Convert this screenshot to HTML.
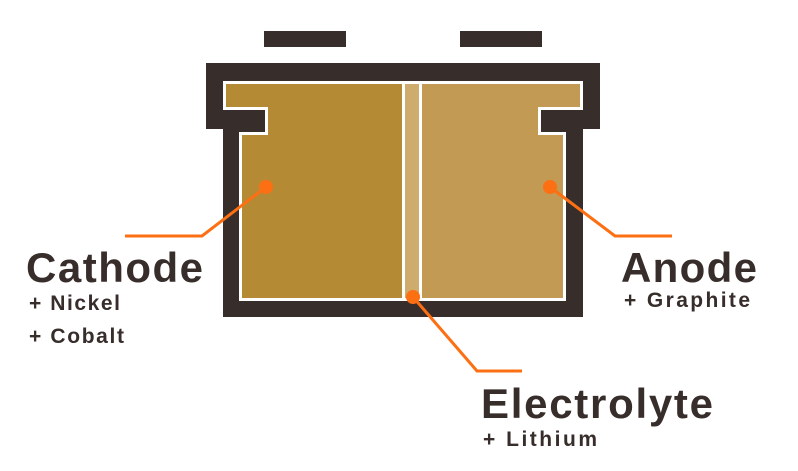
<!DOCTYPE html>
<html><head><meta charset="utf-8"><style>
body{margin:0;background:#fff;}
svg{display:block}
text{font-family:"Liberation Sans",sans-serif;font-weight:bold;fill:#372d2b}
</style></head><body>
<svg width="798" height="471" viewBox="0 0 798 471">
<rect x="264" y="31" width="82" height="16" fill="#372d2b"/>
<rect x="460" y="31" width="82" height="16" fill="#372d2b"/>
<path d="M206 63H600V129H583V317H223V129H206Z" fill="#372d2b"/>
<path d="M223 81H583V110H541V132H566V301H239V132H265V110H223Z" fill="#fff"/>
<path d="M226 84H402V298H242V135H268V107H226Z" fill="#b48a34"/>
<path d="M422 84H580V107H538V135H563V298H422Z" fill="#c39a53"/>
<rect x="405" y="84" width="14" height="214" fill="#cdac6e"/>
<g stroke="#fd6f13" stroke-width="3" fill="none">
<polyline points="125,236 202,236 266,187"/>
<polyline points="672,236 615,236 550,187"/>
<polyline points="413,297 477,371 522,371"/>
</g>
<g fill="#fd6f13">
<circle cx="266" cy="187" r="7"/>
<circle cx="550" cy="187" r="7"/>
<circle cx="413" cy="297" r="7"/>
</g>
<text x="26" y="282" font-size="42" textLength="177">Cathode</text>
<text x="29" y="310" font-size="21" textLength="91">+ Nickel</text>
<text x="29" y="343" font-size="21" textLength="95">+ Cobalt</text>
<text x="621" y="282" font-size="42" textLength="136">Anode</text>
<text x="624" y="307" font-size="21" textLength="126">+ Graphite</text>
<text x="481" y="418" font-size="42" textLength="232">Electrolyte</text>
<text x="483" y="446" font-size="21" textLength="114">+ Lithium</text>
</svg>
</body></html>
